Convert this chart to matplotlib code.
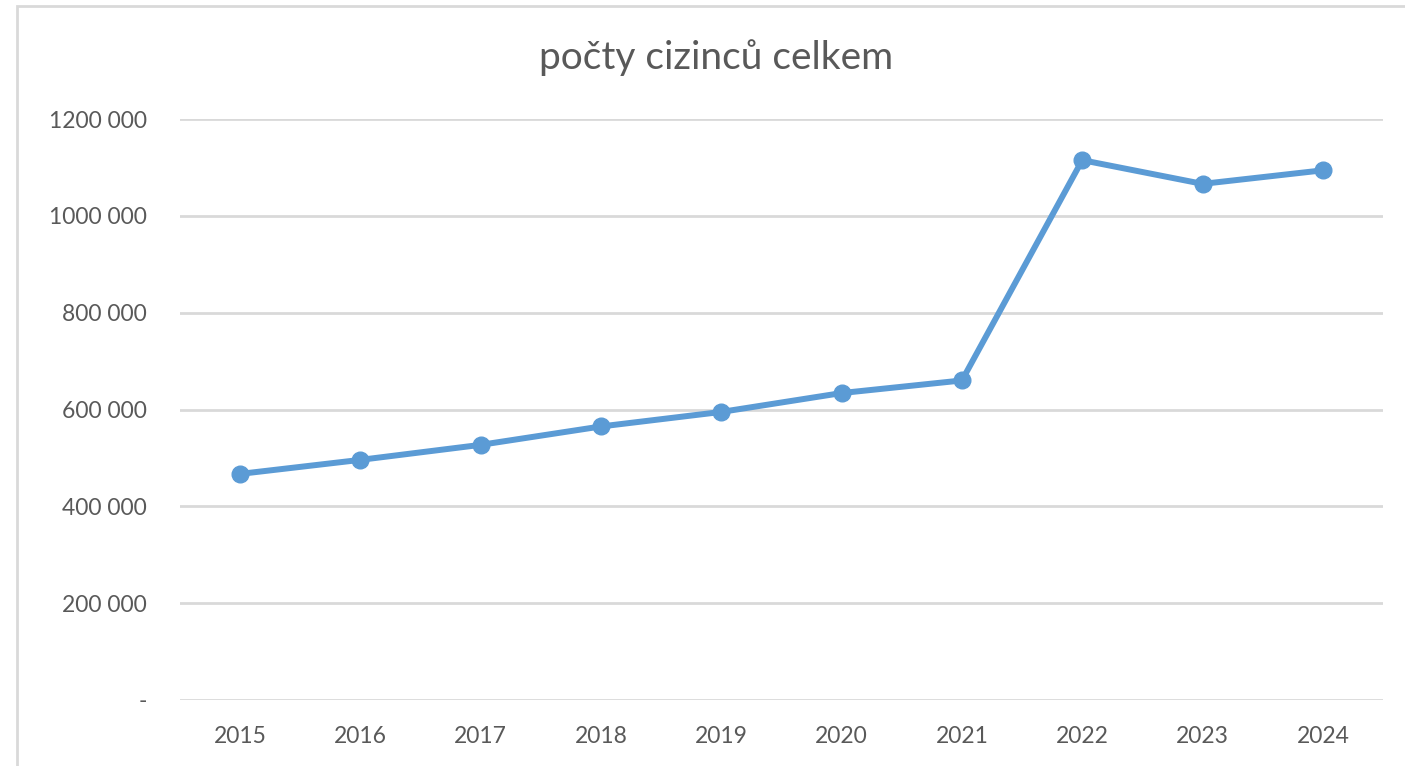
import matplotlib.pyplot as plt
from matplotlib.patches import Rectangle

years = ["2015", "2016", "2017", "2018", "2019", "2020", "2021", "2022", "2023", "2024"]
cizinci = [467000, 496000, 527000, 565000, 595000, 634000, 660000, 1115000, 1066000, 1094000]
y_ticks = [0, 200000, 400000, 600000, 800000, 1000000, 1200000]
y_labels = ["-", "200 000", "400 000", "600 000", "800 000", "1000 000", "1200 000"]

plt.rcParams['font.family'] = ['Lato', 'DejaVu Sans']
text_col = "#595959"

fig = plt.figure(figsize=(14.05, 7.66), dpi=100)
ax = fig.add_axes([180/1405, 1 - 700/766, (1383 - 180)/1405, (700 - 119)/766])

x = range(len(years))
ax.plot(x, cizinci, color="#5B9BD5", linewidth=4.3, marker="o", markersize=12,
        solid_capstyle="round", zorder=3)

ax.set_xlim(-0.5, len(years) - 0.5)
ax.set_ylim(0, 1200000)
ax.set_xticks(list(x))
ax.set_xticklabels(years)
ax.set_yticks(y_ticks)
ax.set_yticklabels(y_labels)
ax.tick_params(axis="both", length=0, labelsize=16.5, colors=text_col)
ax.tick_params(axis="y", pad=24)
ax.tick_params(axis="x", pad=19)
ax.grid(axis="y", color="#d9d9d9", linewidth=2)
ax.set_axisbelow(True)
for s in ax.spines.values():
    s.set_visible(False)

fig.text(716/1405, 1 - 58/766, "počty cizinců celkem", ha="center", va="center",
         fontsize=28, color=text_col)

# ramecek grafu (vpravo a dole oriznuty)
fig.patches.append(Rectangle((17/1405, -0.1), 1.2, 1 - 6/766 + 0.1, transform=fig.transFigure,
                             fill=False, edgecolor="#d9d9d9", linewidth=2))

fig.savefig("out.png", dpi=100)
